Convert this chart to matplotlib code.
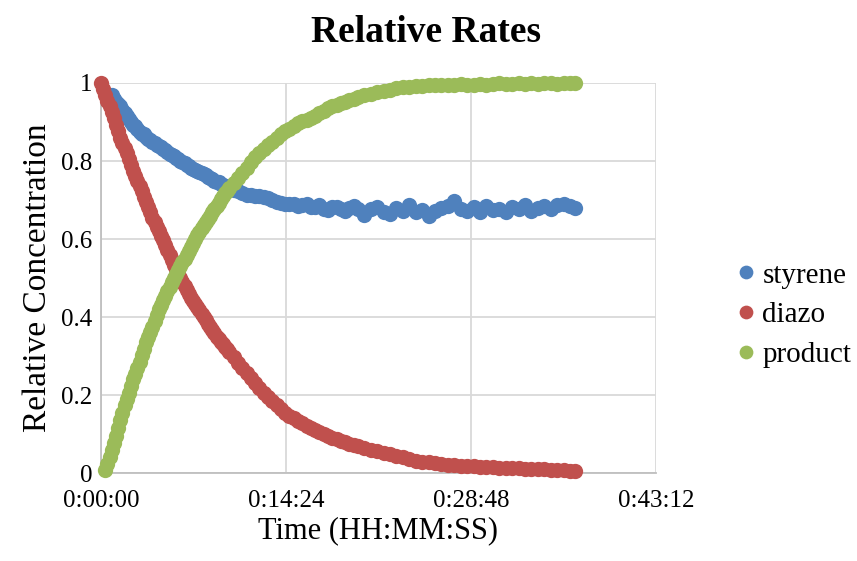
import numpy as np
import matplotlib
matplotlib.use("Agg")
import matplotlib.pyplot as plt
from matplotlib.ticker import FuncFormatter, MultipleLocator

plt.rcParams['font.family'] = ['Liberation Serif', 'DejaVu Serif']

# time in seconds: every 10 s up to 590, every 20 s up to 1200, then every 30 s
t_sec = [0, 10, 20, 30, 40, 50, 60, 70, 80, 90, 100, 110, 120, 130, 140, 150,
         160, 170, 180, 190, 200, 210, 220, 230, 240, 250, 260, 270, 280, 290,
         300, 310, 320, 330, 340, 350, 360, 370, 380, 390, 400, 410, 420, 430,
         440, 450, 460, 470, 480, 490, 500, 510, 520, 530, 540, 550, 560, 570,
         580, 590,
         600, 620, 640, 660, 680, 700, 720, 740, 760, 780, 800, 820, 840, 860,
         880, 900, 920, 940, 960, 980, 1000, 1020, 1040, 1060, 1080, 1100,
         1120, 1140, 1160, 1180, 1200,
         1230, 1260, 1290, 1320, 1350, 1380, 1410, 1440, 1470, 1500, 1530,
         1560, 1590, 1620, 1650, 1680, 1710, 1740, 1770, 1800, 1830, 1860,
         1890, 1920, 1950, 1980, 2010, 2040, 2070, 2100, 2130, 2160, 2190, 2214]

styrene = [np.nan, np.nan, np.nan, np.nan, np.nan, 0.968, 0.96, 0.952, 0.945, 0.94,
           0.932, 0.922, 0.915, 0.908, 0.90, 0.893, 0.89, 0.882, 0.875, 0.87,
           0.868, 0.862, 0.857, 0.855, 0.85, 0.845, 0.84, 0.838, 0.836, 0.832,
           0.828, 0.823, 0.818, 0.815, 0.812, 0.808, 0.805, 0.80, 0.797, 0.795,
           0.79, 0.786, 0.783, 0.78, 0.777, 0.775, 0.772, 0.769, 0.766, 0.763,
           0.76, 0.757, 0.754, 0.75, 0.747, 0.745, 0.742, 0.739, 0.736, 0.733,
           0.73, 0.726, 0.722, 0.718, 0.714, 0.712, 0.71, 0.711, 0.708, 0.705,
           0.699, 0.696, 0.693, 0.69, 0.691, 0.689, 0.685, 0.688, 0.69, 0.683,
           0.682, 0.687, 0.678, 0.675, 0.683, 0.681, 0.676, 0.672, 0.68, 0.684,
           0.676,
           0.662, 0.678, 0.682, 0.67, 0.665, 0.68, 0.672, 0.686, 0.668, 0.675,
           0.66, 0.672, 0.679, 0.684, 0.697, 0.676, 0.672, 0.681, 0.67, 0.684,
           0.675, 0.678, 0.668, 0.682, 0.676, 0.687, 0.671, 0.679, 0.684, 0.677,
           0.686, 0.69, 0.684, 0.68]

diazo = [1.0, 0.985, 0.97, 0.955, 0.94, 0.925, 0.91, 0.893, 0.877, 0.86,
         0.846, 0.833, 0.82, 0.805, 0.79, 0.775, 0.762, 0.748, 0.735, 0.722,
         0.708, 0.695, 0.682, 0.668, 0.655, 0.643, 0.632, 0.62, 0.608, 0.597,
         0.585, 0.572, 0.558, 0.545, 0.533, 0.522, 0.51, 0.50, 0.49, 0.48,
         0.47, 0.46, 0.45, 0.442, 0.433, 0.425, 0.417, 0.408, 0.40, 0.392,
         0.383, 0.375, 0.367, 0.358, 0.35, 0.343, 0.337, 0.33, 0.323, 0.317,
         0.31, 0.297, 0.283, 0.27, 0.257, 0.243, 0.23, 0.217, 0.205, 0.195,
         0.185, 0.175, 0.165, 0.155, 0.147, 0.14, 0.133, 0.127, 0.12, 0.115,
         0.11, 0.105, 0.10, 0.095, 0.091, 0.087, 0.083, 0.079, 0.075, 0.071,
         0.068,
         0.064, 0.060, 0.056, 0.052, 0.048, 0.044, 0.040, 0.036, 0.032, 0.029,
         0.027, 0.025, 0.023, 0.021, 0.020, 0.019, 0.018, 0.017, 0.016, 0.015,
         0.015, 0.014, 0.013, 0.012, 0.012, 0.011, 0.010, 0.010, 0.009, 0.008,
         0.008, 0.007, 0.006, 0.006]

product = [np.nan, np.nan, 0.008, 0.022, 0.04, 0.058, 0.076, 0.095, 0.115, 0.135,
           0.155, 0.175, 0.19, 0.205, 0.222, 0.24, 0.255, 0.27, 0.285, 0.302,
           0.318, 0.335, 0.35, 0.362, 0.375, 0.39, 0.405, 0.42, 0.432, 0.443,
           0.455, 0.467, 0.478, 0.49, 0.50, 0.51, 0.52, 0.53, 0.54, 0.55,
           0.56, 0.57, 0.58, 0.59, 0.60, 0.61, 0.618, 0.627, 0.635, 0.643,
           0.652, 0.66, 0.668, 0.677, 0.685, 0.693, 0.702, 0.71, 0.717, 0.723,
           0.73, 0.743, 0.757, 0.77, 0.783, 0.797, 0.81, 0.82, 0.832, 0.84,
           0.85, 0.86, 0.87, 0.877, 0.883, 0.89, 0.897, 0.902, 0.906, 0.91,
           0.915, 0.922, 0.929, 0.935, 0.94, 0.944, 0.948, 0.952, 0.956, 0.96,
           0.963,
           0.968, 0.972, 0.976, 0.98, 0.983, 0.986, 0.989, 0.99, 0.992, 0.993,
           0.994, 0.995, 0.994, 0.996, 0.995, 0.997, 0.995, 0.996, 0.998, 0.996,
           0.997, 0.999, 0.997, 0.998, 1.0, 0.998, 1.0, 0.997, 0.999, 1.0,
           0.998, 1.0, 0.999, 1.0]

series = [("styrene", styrene, "#4F81BD"),
          ("diazo", diazo, "#C0504D"),
          ("product", product, "#9BBB59")]

fig = plt.figure(figsize=(8.57, 5.61), dpi=100)
ax = fig.add_axes([101/857, 1 - 473/561, (656 - 101)/857, (473 - 83)/561])

for name, vals, col in series:
    ax.plot(t_sec, vals, 'o', ms=11, mew=0, color=col, label=name, clip_on=False, zorder=3)

ax.set_xlim(0, 2592)
ax.set_ylim(0, 1)
ax.xaxis.set_major_locator(MultipleLocator(864))
ax.yaxis.set_major_locator(MultipleLocator(0.2))

def hms(x, pos):
    s = int(round(x))
    return "%d:%02d:%02d" % (s // 3600, (s % 3600) // 60, s % 60)

def yfmt(y, pos):
    return "%g" % round(y, 1)

ax.xaxis.set_major_formatter(FuncFormatter(hms))
ax.yaxis.set_major_formatter(FuncFormatter(yfmt))

ax.grid(True, color="#D9D9D9", lw=1.3)
ax.set_axisbelow(True)
for side in ["top", "right"]:
    ax.spines[side].set_visible(False)
ax.spines["left"].set_color("#BFBFBF")
ax.spines["bottom"].set_color("#BFBFBF")
ax.spines["left"].set_linewidth(1.3)
ax.spines["bottom"].set_linewidth(1.3)
ax.tick_params(length=0, labelsize=18)
ax.tick_params(axis='x', pad=12)
ax.tick_params(axis='y', pad=6)

ax.set_xlabel("Time (HH:MM:SS)", fontsize=22, labelpad=3)
ax.set_ylabel("Relative Concentration", fontsize=24, labelpad=6)
fig.text(0.497, 0.925, "Relative Rates", fontsize=27, fontweight="bold", ha="center", va="baseline")

fig.legend(loc="center left", bbox_to_anchor=(726/857, 1 - 315/561), frameon=False,
           fontsize=21, handlelength=0.6, handletextpad=0.25, labelspacing=0.45,
           markerscale=0.9, borderaxespad=0)

fig.savefig("out.png", dpi=100)
